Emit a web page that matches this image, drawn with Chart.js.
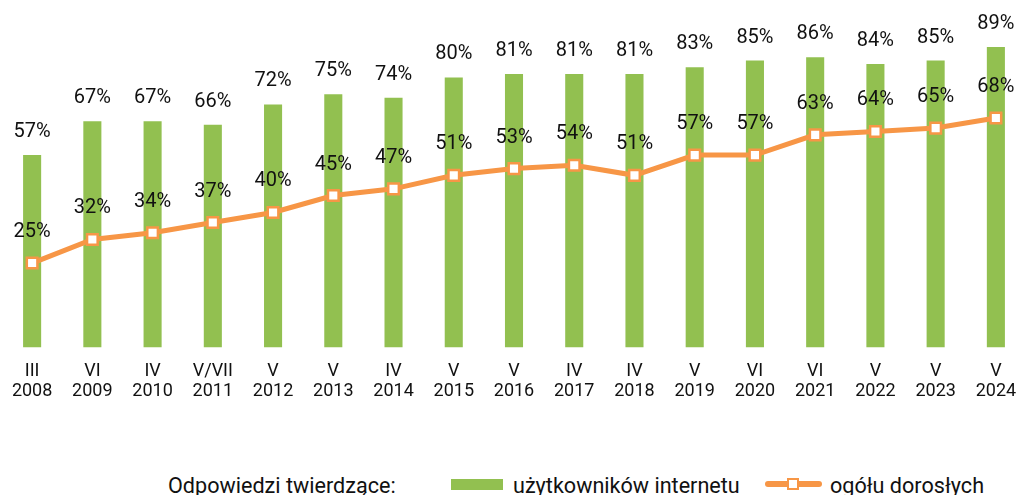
<!DOCTYPE html>
<html>
<head>
<meta charset="utf-8">
<script src="https://cdn.jsdelivr.net/npm/chart.js@4"></script>
<style>
  html, body { margin: 0; padding: 0; background: #fff; overflow: hidden; }
  body { width: 1019px; height: 495px; position: relative; font-family: Roboto, sans-serif; }
  #wrap { position: absolute; left: -8px; top: 0; width: 1044px; height: 407px; }
  .lg { position: absolute; top: 475px; font-size: 21.6px; line-height: 1; color: #111; white-space: nowrap; }
  .box { position: absolute; left: 451px; top: 479px; width: 52px; height: 11px; background: #92C050; }
  .ln { position: absolute; left: 765px; top: 481px; width: 57px; height: 6px; background: #F79646; border-radius: 3px; }
  .sq { position: absolute; left: 787px; top: 478px; width: 12px; height: 12px; background: #fff; border: 2px solid #F79646; box-sizing: border-box; }
</style>
</head>
<body>
<div id="wrap"><canvas id="wykres"></canvas></div>
<div class="lg" style="left:168px">Odpowiedzi twierdzące:</div>
<div class="box"></div>
<div class="lg" style="left:513px">użytkowników internetu</div>
<div class="ln"></div>
<div class="sq"></div>
<div class="lg" style="left:830px">ogółu dorosłych</div>
<script>
var okresy = ['III', 'VI', 'IV', 'V/VII', 'V', 'V', 'IV', 'V', 'V', 'IV', 'IV', 'V', 'VI', 'VI', 'V', 'V', 'V'];
var lata = ['2008', '2009', '2010', '2011', '2012', '2013', '2014', '2015', '2016', '2017', '2018', '2019', '2020', '2021', '2022', '2023', '2024'];
var uzytkownicy = [57, 67, 67, 66, 72, 75, 74, 80, 81, 81, 81, 83, 85, 86, 84, 85, 89];
var dorosli = [25, 32, 34, 37, 40, 45, 47, 51, 53, 54, 51, 57, 57, 63, 64, 65, 68];

var etykiety = okresy.map(function (o, i) { return [o, lata[i]]; });

var wartosci = {
    id: 'wartosci',
    afterDatasetsDraw: function (chart) {
        var ctx = chart.ctx;
        ctx.save();
        ctx.font = '20px Roboto, sans-serif';
        ctx.fillStyle = '#111';
        ctx.textAlign = 'center';
        ctx.textBaseline = 'middle';
        chart.data.datasets.forEach(function (ds, d) {
            var meta = chart.getDatasetMeta(d);
            var odstep = ds.type === 'bar' ? 23 : 31;
            meta.data.forEach(function (el, i) {
                ctx.fillText(ds.data[i] + '%', el.x, el.y - odstep);
            });
        });
        ctx.restore();
    }
};

var ctx = document.getElementById('wykres').getContext('2d');
var myChart = new Chart(ctx, {
    data: {
        labels: etykiety,
        datasets: [{
            type: 'line',
            label: 'ogółu dorosłych',
            data: dorosli,
            borderColor: '#F79646',
            borderWidth: 5,
            tension: 0,
            pointStyle: 'rect',
            pointRadius: 7.5,
            pointBackgroundColor: '#fff',
            pointBorderColor: '#F79646',
            pointBorderWidth: 2.5,
            order: 0
        }, {
            type: 'bar',
            label: 'użytkowników internetu',
            data: uzytkownicy,
            backgroundColor: '#92C050',
            categoryPercentage: 0.3,
            barPercentage: 1,
            order: 1
        }]
    },
    options: {
        responsive: true,
        maintainAspectRatio: false,
        animation: false,
        layout: { padding: { left: 2, right: 7, top: 0, bottom: 0 } },
        plugins: { legend: { display: false }, tooltip: { enabled: false } },
        scales: {
            x: {
                grid: { display: false },
                border: { display: false },
                ticks: {
                    autoSkip: false,
                    maxRotation: 0,
                    color: '#111',
                    padding: 6,
                    font: { family: 'Roboto, sans-serif', size: 18, lineHeight: 1.1 }
                }
            },
            y: {
                display: false,
                min: 0,
                max: 100
            }
        }
    },
    plugins: [wartosci]
});
</script>
</body>
</html>
